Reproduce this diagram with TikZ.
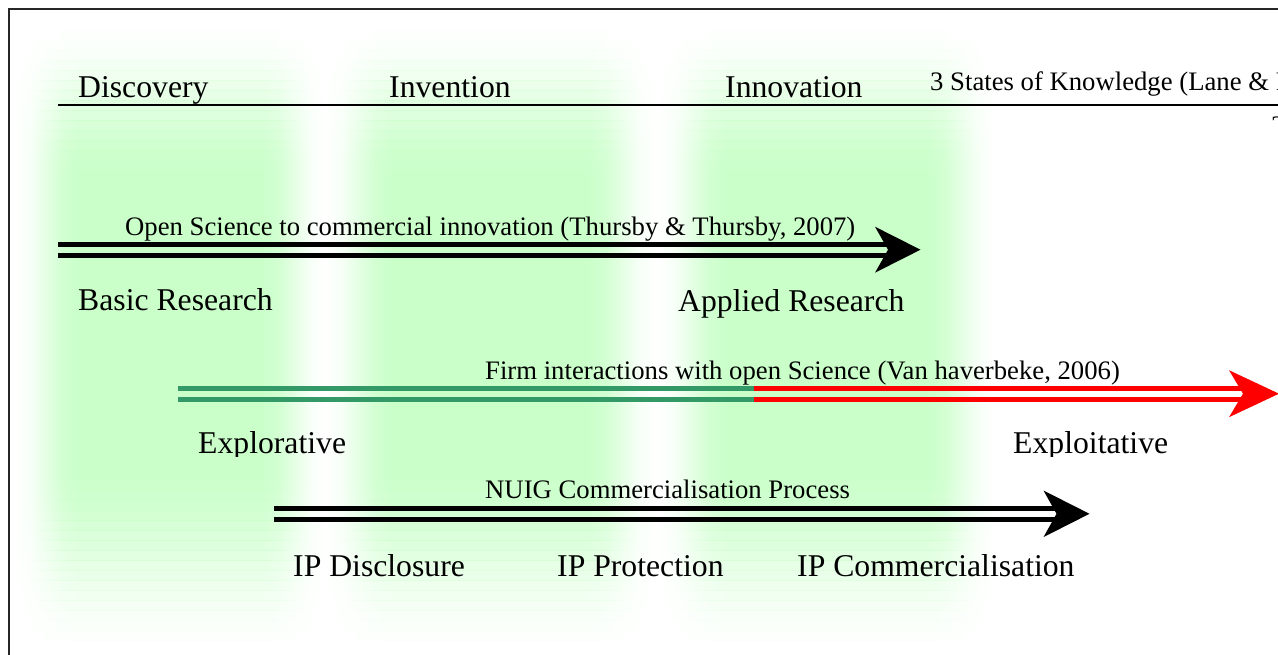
\documentclass[tikz,border=0pt]{standalone}
\usepackage{fontspec}
\setmainfont{Liberation Serif}
\definecolor{bandc}{RGB}{202,255,202}
\definecolor{seagreen}{RGB}{51,153,102}
\definecolor{arrred}{RGB}{255,0,0}
\pgfdeclarehorizontalshading{hband}{100bp}{color(0bp)=(white); color(25bp)=(white);
  color(27.5bp)=(bandc!16!white); color(30bp)=(bandc!50!white); color(32.5bp)=(bandc!84!white);
  color(35bp)=(bandc); color(65bp)=(bandc);
  color(67.5bp)=(bandc!84!white); color(70bp)=(bandc!50!white); color(72.5bp)=(bandc!16!white);
  color(75bp)=(white); color(100bp)=(white)}
\newcommand{\greenband}[2]{%
  \foreach \k in {0,...,63}{%
    \pgfmathsetmacro\ya{20+10*\k}%
    \pgfmathsetmacro\yb{\ya+10}%
    \pgfmathsetmacro\yc{\ya+5}%
    \pgfmathsetmacro\ua{min(1,max(0,(\yc-20)/160))}%
    \pgfmathsetmacro\ub{min(1,max(0,(660-\yc)/200))}%
    \pgfmathsetmacro\op{(\ua*\ua*(3-2*\ua))*(\ub*\ub*(3-2*\ub))}%
    \shade[shading=hband,opacity=\op] (#1,\ya) rectangle (#2,\yb);
  }%
}
\tikzset{
  bigtext/.style={anchor=base west,inner sep=0pt,font=\fontsize{31.7}{36}\selectfont},
  smalltext/.style={anchor=base west,inner sep=0pt,font=\fontsize{26.7}{30}\selectfont},
  barline/.style={line width=5pt},
}
\begin{document}
\begin{tikzpicture}[x=1pt,y=-1pt]
\useasboundingbox (0,0) rectangle (1278,654);
\clip (0,0) rectangle (1278,654);
\fill[white] (0,0) rectangle (1278,654);
% soft green columns
\greenband{15}{325}
\greenband{325}{655}
\greenband{658}{995}
% frame
\draw[line width=1.5pt,black!85] (9,9) rectangle (1400,800);
% header
\coordinate (hl) at (58,105);
\coordinate (hr) at (1290,105);
\draw[line width=2pt] (hl) -- (hr);
\node[bigtext] (disc) at (78,97) {Discovery};
\node[bigtext] (inve) at (389,97) {Invention};
\node[bigtext] (inno) at (725,97) {Innovation};
\node[smalltext] (states) at (930,90) {3 States of Knowledge (Lane \& P};
\begin{scope}
\clip (1200,110) rectangle (1278,122.5);
\node[smalltext] (yr) at (1271,134) {2};
\end{scope}
% arrow 1
\coordinate (a1s) at (58,249.7);
\coordinate (a1e) at (891,249.7);
\coordinate (a1t) at (920.5,249.7);
\draw[barline] ([yshift=5.5pt]a1s) -- ([yshift=5.5pt]a1e);
\draw[barline] ([yshift=-5.5pt]a1s) -- ([yshift=-5.5pt]a1e);
\fill (a1t) -- ++(-45.5,-23) -- ++(13,23) -- ++(-13,23) -- cycle;
\node[smalltext] (l1) at (125,235) {Open Science to commercial innovation (Thursby \& Thursby, 2007)};
\node[bigtext] (basic) at (78,310) {Basic Research};
\node[bigtext] (appl) at (678,311) {Applied Research};
% arrow 2
\coordinate (a2s) at (178,393.7);
\coordinate (a2m) at (754,393.7);
\coordinate (a2e) at (1249,393.7);
\coordinate (a2t) at (1279,393.7);
\draw[barline,seagreen] ([yshift=5.5pt]a2s) -- ([yshift=5.5pt]a2m);
\draw[barline,seagreen] ([yshift=-5.5pt]a2s) -- ([yshift=-5.5pt]a2m);
\draw[barline,arrred] ([yshift=5.5pt]a2m) -- ([yshift=5.5pt]a2e);
\draw[barline,arrred] ([yshift=-5.5pt]a2m) -- ([yshift=-5.5pt]a2e);
\fill[arrred] (a2t) -- ++(-50,-23.5) -- ++(14,23.5) -- ++(-14,23.5) -- cycle;
\node[smalltext] (l2) at (485,379) {Firm interactions with open Science (Van haverbeke, 2006)};
\begin{scope}
\clip (0,0) rectangle (1278,456.5);
\node[bigtext] (explor) at (198,453) {Explorative};
\node[bigtext] (exploi) at (1013,453) {Exploitative};
\end{scope}
% arrow 3
\coordinate (a3s) at (274,513.8);
\coordinate (a3e) at (1060,513.8);
\coordinate (a3t) at (1089.5,513.8);
\draw[barline] ([yshift=5.5pt]a3s) -- ([yshift=5.5pt]a3e);
\draw[barline] ([yshift=-5.5pt]a3s) -- ([yshift=-5.5pt]a3e);
\fill (a3t) -- ++(-46,-23.3) -- ++(13,23.3) -- ++(-13,23.3) -- cycle;
\node[smalltext] (l3) at (485,498) {NUIG Commercialisation Process};
\node[bigtext] (ipd) at (293,576) {IP Disclosure};
\node[bigtext] (ipp) at (557,576) {IP Protection};
\node[bigtext] (ipc) at (797,576) {IP Commercialisation};
\end{tikzpicture}
\end{document}
